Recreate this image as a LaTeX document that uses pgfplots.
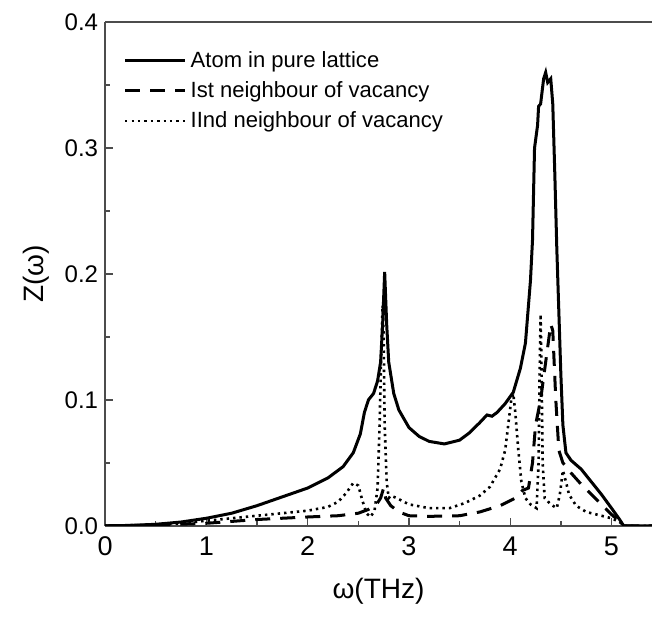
\documentclass[border=0pt]{standalone}
\usepackage{fontspec}
\setmainfont{Liberation Sans}
\usepackage{pgfplots}
\pgfplotsset{compat=1.18}
\begin{document}
\begin{tikzpicture}
\begin{axis}[
  scale only axis, width=273pt, height=251.5pt,
  xmin=0, xmax=5.4, ymin=0, ymax=0.4,
  separate axis lines,
  axis x line*=box, axis y line*=left,
  xtick pos=bottom, ytick pos=left,
  tick align=inside,
  xtick={0,1,2,3,4,5}, ytick={0,0.1,0.2,0.3,0.4},
  minor x tick num=1, minor y tick num=1,
  major tick length=4pt, minor tick length=2.2pt,
  every tick/.style={black!70, line width=0.7pt},
  axis line style={black!70, line width=0.8pt},
  /pgf/number format/assume math mode=true,
  xticklabel style={font=\fontsize{13.5}{15}\selectfont, yshift=-2pt},
  yticklabel style={font=\fontsize{12}{14}\selectfont, /pgf/number format/.cd, fixed, fixed zerofill, precision=1},
  xlabel={\fontsize{14}{16}\selectfont ω(THz)},
  ylabel={\fontsize{14}{16}\selectfont Z(ω)},
  xlabel style={yshift=-4pt},
  ylabel style={yshift=1pt},
  legend cell align=left,
  legend style={draw=none, fill=none, at={(axis description cs:0,1)}, anchor=north west,
    xshift=6pt, yshift=-10.5pt, font=\fontsize{11}{12}\selectfont, row sep=1.5pt,
    /tikz/every even column/.append style={column sep=0pt}},
  legend image code/.code={\draw[#1] (0pt,0pt) -- (30pt,0pt);},
]
\addplot[black, line width=1.5pt] coordinates {
(0,0) (0.25,0.0003) (0.5,0.0012) (0.75,0.003) (1.0,0.006) (1.25,0.010) (1.5,0.016)
(1.75,0.023) (2.0,0.030) (2.2,0.038) (2.35,0.047) (2.45,0.058) (2.52,0.073) (2.56,0.090)
(2.6,0.100) (2.65,0.105) (2.69,0.115) (2.72,0.130) (2.74,0.160) (2.76,0.2015) (2.78,0.16)
(2.80,0.13) (2.85,0.105) (2.9,0.092) (3.0,0.078) (3.1,0.071) (3.2,0.067) (3.35,0.065)
(3.5,0.068) (3.6,0.074) (3.7,0.082) (3.77,0.088) (3.82,0.087) (3.87,0.090) (3.95,0.097)
(4.03,0.106) (4.1,0.125) (4.15,0.145) (4.2,0.195) (4.22,0.227) (4.24,0.300) (4.27,0.318)
(4.28,0.333) (4.30,0.335) (4.33,0.355) (4.35,0.360) (4.37,0.352) (4.40,0.355) (4.42,0.335)
(4.44,0.28) (4.46,0.22) (4.48,0.17) (4.5,0.12) (4.52,0.08) (4.55,0.058) (4.6,0.052)
(4.7,0.045) (4.8,0.035) (4.9,0.025) (5.0,0.014) (5.08,0.005) (5.12,0) (5.4,0)
};
\addlegendentry{Atom in pure lattice}
\addplot[black, line width=1.5pt, dash pattern=on 7.5pt off 5pt] coordinates {
(0,0) (0.5,0.0005) (1.0,0.002) (1.5,0.005) (2.0,0.007) (2.3,0.008) (2.5,0.010) (2.6,0.013)
(2.68,0.017) (2.72,0.022) (2.75,0.030) (2.77,0.022) (2.82,0.016) (2.9,0.011) (3.0,0.008)
(3.2,0.0075) (3.5,0.008) (3.7,0.011) (3.9,0.016) (4.05,0.022) (4.12,0.028) (4.18,0.030)
(4.22,0.05) (4.25,0.08) (4.30,0.10) (4.35,0.13) (4.40,0.16) (4.42,0.155) (4.45,0.10)
(4.48,0.06) (4.52,0.05) (4.6,0.042) (4.7,0.033) (4.8,0.025) (4.9,0.017) (5.0,0.009)
(5.1,0.002) (5.12,0) (5.4,0)
};
\addlegendentry{Ist neighbour of vacancy}
\addplot[black, line width=1.3pt, dash pattern=on 1.2pt off 2pt] coordinates {
(0,0) (0.5,0.0008) (0.75,0.002) (1.0,0.004) (1.25,0.006) (1.5,0.008) (1.75,0.010) (2.0,0.012)
(2.2,0.015) (2.3,0.019) (2.38,0.026) (2.45,0.034) (2.5,0.032) (2.54,0.020) (2.58,0.010)
(2.62,0.007) (2.66,0.012) (2.69,0.030) (2.71,0.08) (2.73,0.15) (2.74,0.175) (2.75,0.15)
(2.76,0.08) (2.78,0.035) (2.8,0.022) (2.82,0.024) (2.88,0.022) (3.0,0.017) (3.2,0.014)
(3.4,0.014) (3.55,0.018) (3.7,0.024) (3.8,0.031) (3.9,0.045) (3.95,0.06) (3.98,0.08)
(4.01,0.100) (4.03,0.105) (4.05,0.09) (4.08,0.06) (4.11,0.035) (4.15,0.022) (4.2,0.017)
(4.26,0.014) (4.28,0.05) (4.29,0.12) (4.30,0.168) (4.31,0.12) (4.32,0.05) (4.34,0.022)
(4.4,0.017) (4.46,0.014) (4.49,0.025) (4.52,0.044) (4.55,0.035) (4.58,0.025) (4.65,0.016)
(4.75,0.011) (4.9,0.008) (5.0,0.006) (5.08,0.003) (5.12,0) (5.4,0)
};
\addlegendentry{IInd neighbour of vacancy}
\end{axis}
\pgfresetboundingbox
\path ([xshift=-52.5pt,yshift=-46.5pt]current axis.south west) rectangle ([yshift=11pt]current axis.north east);
\end{tikzpicture}
\end{document}
